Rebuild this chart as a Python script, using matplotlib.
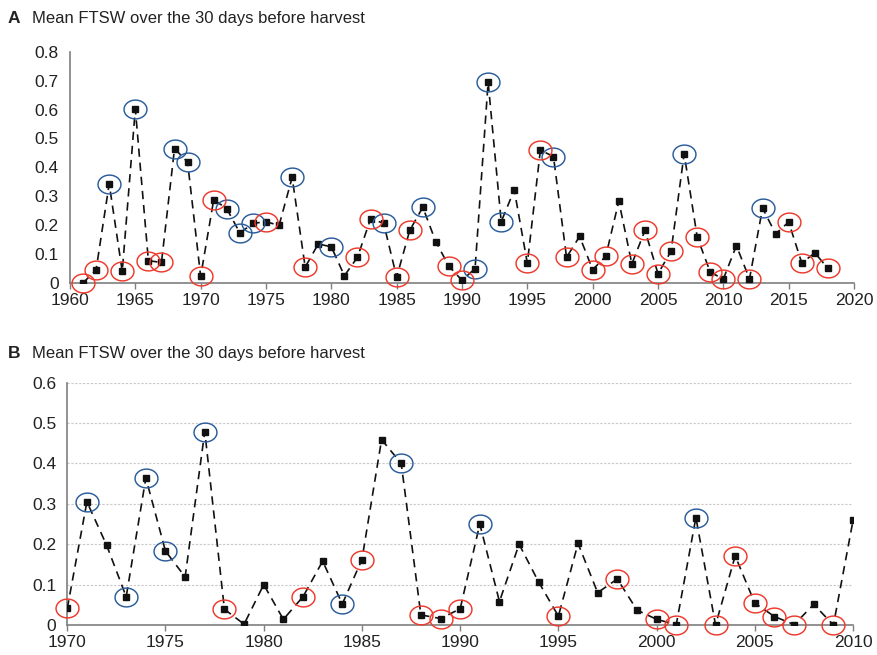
import matplotlib.pyplot as plt
import numpy as np
from matplotlib.path import Path

plt.rcParams['font.family'] = ['Liberation Sans', 'DejaVu Sans']

# Panel A: 1961-2018
years_a = list(range(1961, 2019))
ftsw_a = [0.0, 0.046, 0.343, 0.040, 0.602, 0.077, 0.071, 0.465, 0.418, 0.023,
          0.288, 0.257, 0.173, 0.206, 0.212, 0.199, 0.365, 0.055, 0.135, 0.125,
          0.025, 0.089, 0.221, 0.207, 0.020, 0.182, 0.262, 0.142, 0.058, 0.009,
          0.050, 0.695, 0.212, 0.322, 0.068, 0.460, 0.437, 0.089, 0.161, 0.046,
          0.092, 0.283, 0.066, 0.182, 0.032, 0.110, 0.447, 0.159, 0.037, 0.014,
          0.129, 0.014, 0.259, 0.170, 0.211, 0.069, 0.104, 0.051]
blue_a = [1963, 1965, 1968, 1969, 1972, 1973, 1974, 1977, 1980, 1984, 1987,
          1991, 1992, 1993, 1997, 2007, 2013]
red_a = [1961, 1962, 1964, 1966, 1967, 1970, 1971, 1975, 1978, 1982, 1983,
         1985, 1986, 1989, 1990, 1995, 1996, 1998, 2000, 2001, 2003, 2004,
         2005, 2006, 2008, 2009, 2010, 2012, 2015, 2016, 2018]

# Panel B: 1970-2010
years_b = list(range(1970, 2011))
ftsw_b = [0.041, 0.305, 0.198, 0.070, 0.364, 0.183, 0.119, 0.479, 0.039, 0.002,
          0.100, 0.014, 0.070, 0.158, 0.052, 0.162, 0.459, 0.400, 0.025, 0.016,
          0.040, 0.250, 0.058, 0.200, 0.106, 0.022, 0.202, 0.080, 0.114, 0.037,
          0.014, 0.001, 0.266, 0.000, 0.171, 0.054, 0.021, 0.001, 0.051, 0.000,
          0.259]
blue_b = [1971, 1973, 1974, 1975, 1977, 1984, 1987, 1991, 2002]
red_b = [1970, 1978, 1982, 1985, 1988, 1989, 1990, 1995, 1998, 2000, 2001,
         2003, 2004, 2005, 2006, 2007, 2009]

title = 'Mean FTSW over the 30 days before harvest'
BLUE = '#2b5d9b'
RED = '#ee3a2c'
GREY = '#7f7f7f'
TXT = '#222222'

# flattened ellipse used as the ring marker
t = np.linspace(0, 2 * np.pi, 60)
ring = Path(np.column_stack([np.cos(t), 0.82 * np.sin(t)]))


def draw_panel(ax, years, vals, blue, red, xlim, ylim, yticks, grid):
    lookup = dict(zip(years, vals))
    ax.plot(years, vals, color='#111111', lw=1.2, ls=(0, (5, 3.5)),
            marker='s', ms=4.8, mfc='#111111', mec='#111111', zorder=3)
    for yrs, col in ((blue, BLUE), (red, RED)):
        ax.plot(yrs, [lookup[y] for y in yrs], ls='none', marker=ring,
                ms=16.5, mfc='none', mec=col, mew=1.05, zorder=4, clip_on=False)
    ax.set_xlim(*xlim)
    ax.set_ylim(*ylim)
    ax.set_yticks(yticks)
    ax.set_yticklabels(['0' if v == 0 else f'{v:.1f}' for v in yticks])
    ax.set_xticks(range(xlim[0], xlim[1] + 1, 5))
    for s in ('top', 'right'):
        ax.spines[s].set_visible(False)
    for s in ('left', 'bottom'):
        ax.spines[s].set_color(GREY)
        ax.spines[s].set_linewidth(1.2)
    ax.tick_params(axis='y', length=0, pad=8, labelsize=12.5, labelcolor=TXT)
    ax.tick_params(axis='x', length=4, width=1, color=GREY, pad=3,
                   labelsize=12.5, labelcolor=TXT)
    if grid:
        ax.yaxis.grid(True, ls=(0, (2, 1.5)), color='#c8c8c8', lw=0.8)
        ax.set_axisbelow(True)


fig = plt.figure(figsize=(8.77, 6.55), dpi=100)
ax_a = fig.add_axes([0.0798, 0.568, 0.894, 0.353])
ax_b = fig.add_axes([0.0767, 0.0458, 0.896, 0.370])

draw_panel(ax_a, years_a, ftsw_a, blue_a, red_a, (1960, 2020), (0, 0.8),
           [0, 0.1, 0.2, 0.3, 0.4, 0.5, 0.6, 0.7, 0.8], False)
draw_panel(ax_b, years_b, ftsw_b, blue_b, red_b, (1970, 2010), (0, 0.6),
           [0, 0.1, 0.2, 0.3, 0.4, 0.5, 0.6], True)

fig.text(0.009, 0.972, 'A', fontsize=12.5, fontweight='bold', color=TXT, va='center')
fig.text(0.037, 0.972, title, fontsize=12, color=TXT, va='center')
fig.text(0.009, 0.461, 'B', fontsize=12.5, fontweight='bold', color=TXT, va='center')
fig.text(0.037, 0.461, title, fontsize=12, color=TXT, va='center')

fig.savefig('out.png', dpi=100)
